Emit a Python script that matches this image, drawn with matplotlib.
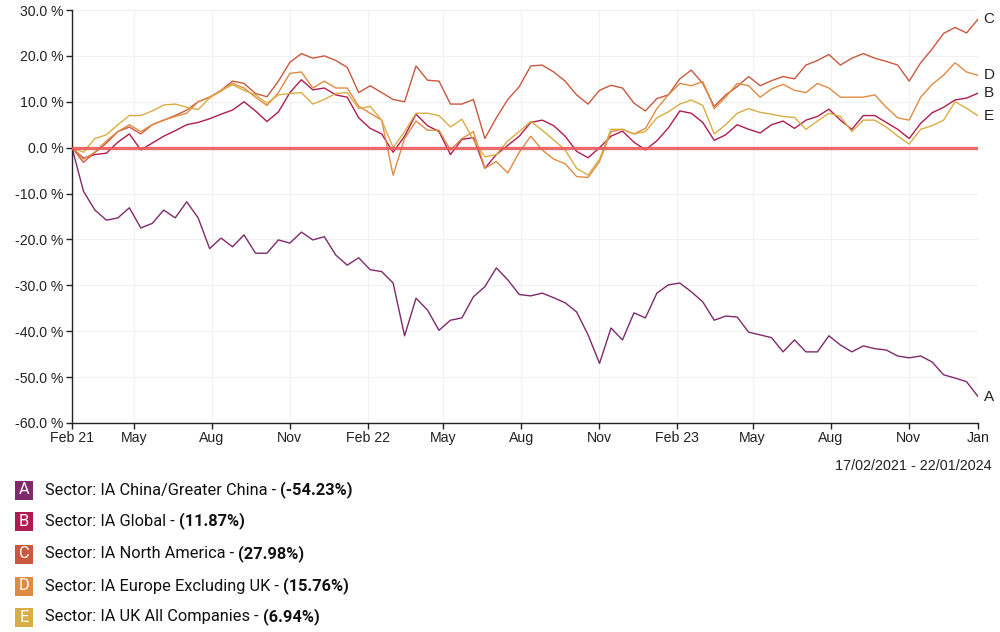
import numpy as np
import pandas as pd
import matplotlib
matplotlib.use("Agg")
import matplotlib.pyplot as plt
from matplotlib.patches import Rectangle

# ---------------- data ----------------
START = "2021-02-17"
END = "2024-01-22"
N_POINTS = 80

china = [0, -9.5, -13.6, -15.8, -15.3, -13.1, -17.5, -16.5, -13.6, -15.3,
         -11.8, -15.3, -22.0, -19.7, -21.6, -19.0, -23.0, -23.0, -20.1, -20.8,
         -18.4, -20.1, -19.4, -23.4, -25.6, -24.0, -26.6, -27.0, -29.5, -41.0,
         -32.8, -35.4, -39.8, -37.6, -37.1, -32.5, -30.3, -26.2, -28.8, -32.0,
         -32.3, -31.7, -32.7, -33.8, -35.8, -40.8, -47.0, -39.3, -41.9, -36.0,
         -37.1, -31.7, -29.9, -29.5, -31.4, -33.6, -37.6, -36.7, -36.9, -40.2,
         -40.8, -41.4, -44.5, -41.9, -44.5, -44.5, -41.0, -43.0, -44.5, -43.2,
         -43.8, -44.1, -45.4, -45.8, -45.4, -46.7, -49.5, -50.2, -51.0, -54.23]

global_ = [0, -2.3, -1.5, -1.2, 1.2, 3.0, -0.5, 1.0, 2.5, 3.7,
           5.0, 5.5, 6.3, 7.3, 8.2, 10.0, 8.0, 5.7, 7.8, 12.0,
           14.8, 12.6, 13.0, 11.5, 11.0, 6.5, 4.2, 3.0, -1.0, 2.5,
           7.3, 4.8, 3.5, -1.5, 1.8, 2.2, -4.5, -1.5, 0.5, 2.5,
           5.5, 6.0, 4.8, 2.5, -0.8, -2.2, 0.0, 2.5, 3.6, 1.2,
           -0.5, 1.5, 4.3, 8.0, 7.5, 5.5, 1.6, 2.8, 5.0, 4.0,
           3.2, 5.0, 5.8, 4.2, 6.0, 6.8, 8.4, 6.0, 4.0, 7.0,
           7.0, 5.5, 4.0, 2.0, 5.3, 7.6, 8.8, 10.4, 10.8, 11.87]

north_america = [0, -3.2, -1.0, 1.0, 3.5, 4.5, 3.0, 5.0, 6.0, 7.0,
                 8.2, 10.0, 11.0, 12.5, 14.5, 14.0, 11.8, 11.1, 14.5, 18.6,
                 20.5, 19.5, 20.0, 19.0, 17.5, 12.0, 13.5, 12.0, 10.5, 10.0,
                 17.8, 14.7, 14.5, 9.5, 9.5, 10.5, 2.0, 6.5, 10.5, 13.3,
                 17.8, 18.0, 16.5, 14.5, 11.5, 9.5, 12.5, 13.6, 13.0, 9.7,
                 8.0, 10.7, 11.5, 15.0, 16.9, 14.0, 9.0, 11.5, 13.3, 15.5,
                 13.5, 14.6, 15.5, 15.0, 18.0, 19.0, 20.3, 18.0, 19.5, 20.5,
                 19.5, 18.8, 18.0, 14.5, 18.5, 21.5, 24.9, 26.2, 25.0, 27.98]

europe = [0, -2.5, -1.0, 1.5, 3.5, 5.0, 3.5, 5.0, 6.0, 6.8,
          7.5, 10.0, 11.0, 12.3, 14.0, 13.0, 11.0, 9.2, 12.0, 16.2,
          16.5, 13.0, 14.5, 13.0, 13.0, 9.0, 7.5, 6.0, -6.0, 2.0,
          5.8, 3.8, 3.8, -0.5, 2.0, 3.5, -4.5, -3.0, -5.5, -1.0,
          2.5, -0.5, -2.5, -3.5, -6.3, -6.5, -3.0, 3.5, 4.0, 3.0,
          4.2, 8.5, 11.5, 14.0, 13.5, 14.4, 8.5, 11.0, 14.0, 13.5,
          11.0, 12.8, 13.8, 12.5, 12.0, 14.0, 13.0, 11.0, 11.0, 11.0,
          11.5, 8.8, 6.5, 6.0, 11.0, 13.8, 15.8, 18.5, 16.5, 15.76]

uk = [0, -1.0, 2.0, 2.8, 5.0, 7.0, 7.0, 8.0, 9.3, 9.5,
      8.8, 8.3, 10.8, 12.5, 13.7, 12.5, 11.5, 9.7, 11.5, 11.8,
      12.0, 9.5, 10.5, 11.8, 12.0, 8.5, 9.0, 6.0, 0.0, 3.5,
      7.5, 7.5, 7.0, 4.5, 6.2, 1.7, -2.0, -1.5, 1.5, 3.5,
      5.7, 3.8, 1.7, -0.5, -4.5, -6.0, -2.5, 4.0, 4.0, 3.0,
      3.5, 6.5, 7.8, 9.5, 10.4, 9.2, 3.0, 5.0, 7.5, 8.5,
      7.7, 7.3, 6.8, 6.6, 4.0, 5.8, 7.5, 6.8, 3.5, 6.0,
      6.0, 4.5, 2.5, 0.8, 4.0, 4.8, 6.0, 10.0, 8.6, 6.94]

letters = ["A", "B", "C", "D", "E"]
sector_names = ["Sector: IA China/Greater China",
                "Sector: IA Global",
                "Sector: IA North America",
                "Sector: IA Europe Excluding UK",
                "Sector: IA UK All Companies"]
total_returns = ["-54.23%", "11.87%", "27.98%", "15.76%", "6.94%"]

tick_dates = ["2021-02-17", "2021-05-01", "2021-08-01", "2021-11-01",
              "2022-02-01", "2022-05-01", "2022-08-01", "2022-11-01",
              "2023-02-01", "2023-05-01", "2023-08-01", "2023-11-01",
              "2024-01-22"]
tick_labels = ["Feb 21", "May", "Aug", "Nov", "Feb 22", "May", "Aug", "Nov",
               "Feb 23", "May", "Aug", "Nov", "Jan"]

y_ticks = [-60, -50, -40, -30, -20, -10, 0, 10, 20, 30]
date_range_text = "17/02/2021 - 22/01/2024"

# ---------------- style ----------------
COLOURS = ["#7e2a6c", "#b01c50", "#c9583f", "#e08b42", "#d9ad43"]
ZERO_COLOUR = "#ea5a5c"
AXIS_FONT = "Liberation Sans"
LEGEND_FONT = "Roboto"
TICK_SIZE = 10.2
LEGEND_SIZE = 11.8

W, H = 1000, 632

# ======================================================

dates = pd.date_range(START, END, periods=N_POINTS)
series = [china, global_, north_america, europe, uk]

fig = plt.figure(figsize=(W / 100, H / 100), dpi=100)
ax = fig.add_axes([72 / W, 1 - 423 / H, (978 - 72) / W, (423 - 10) / H])

for vals, col in zip(series, COLOURS):
    ax.plot(dates, vals, color=col, linewidth=1.0, zorder=2)

ax.axhline(0, color=ZERO_COLOUR, linewidth=2.4, alpha=0.9, zorder=3)

# end labels
for vals, letter in zip(series, letters):
    ax.annotate(letter, xy=(dates[-1], vals[-1]), xytext=(4, 0),
                textcoords="offset points", ha="left", va="center",
                fontsize=11, family=AXIS_FONT, color="#222222",
                annotation_clip=False)

ax.set_xlim(dates[0], dates[-1])
ax.set_ylim(-60, 30)

ax.set_xticks(pd.to_datetime(tick_dates))
ax.set_xticklabels(tick_labels, fontsize=TICK_SIZE, family=AXIS_FONT,
                   color="#222222")
ax.set_yticks(y_ticks)
ax.set_yticklabels([f"{v:.1f} %" for v in y_ticks], fontsize=TICK_SIZE,
                   family=AXIS_FONT, color="#222222")

ax.grid(True, color="#f1f1f1", linewidth=0.8, zorder=0)
ax.set_axisbelow(True)

for side in ["top", "right"]:
    ax.spines[side].set_visible(False)
for side in ["left", "bottom"]:
    ax.spines[side].set_color("#222222")
    ax.spines[side].set_linewidth(1.0)
ax.tick_params(axis="both", direction="out", length=4, width=1.0,
               color="#222222", pad=2)

fig.text(992 / W, 1 - 466 / H, date_range_text, ha="right", va="center",
         fontsize=10.4, family=AXIS_FONT, color="#222222")

# ---------------- legend ----------------
renderer = fig.canvas.get_renderer()
legend_y = [490, 521, 554, 586, 617]

for letter, name, ret, col, yc in zip(letters, sector_names, total_returns,
                                      COLOURS, legend_y):
    box = Rectangle((15 / W, 1 - (yc + 9.5) / H), 18 / W, 19 / H,
                    transform=fig.transFigure, facecolor=col,
                    edgecolor="none")
    fig.add_artist(box)
    fig.text(24 / W, 1 - yc / H, letter, ha="center", va="center",
             fontsize=LEGEND_SIZE, family=LEGEND_FONT, color="white")

    t = fig.text(45 / W, 1 - yc / H, name + " - ", ha="left", va="center",
                 fontsize=LEGEND_SIZE, family=LEGEND_FONT, color="#111111")
    bb = t.get_window_extent(renderer)
    fig.text(bb.x1 / W, 1 - yc / H, f"({ret})", ha="left", va="center",
             fontsize=LEGEND_SIZE, family=LEGEND_FONT, fontweight="bold",
             color="#111111")

fig.savefig("out.png", dpi=100)
